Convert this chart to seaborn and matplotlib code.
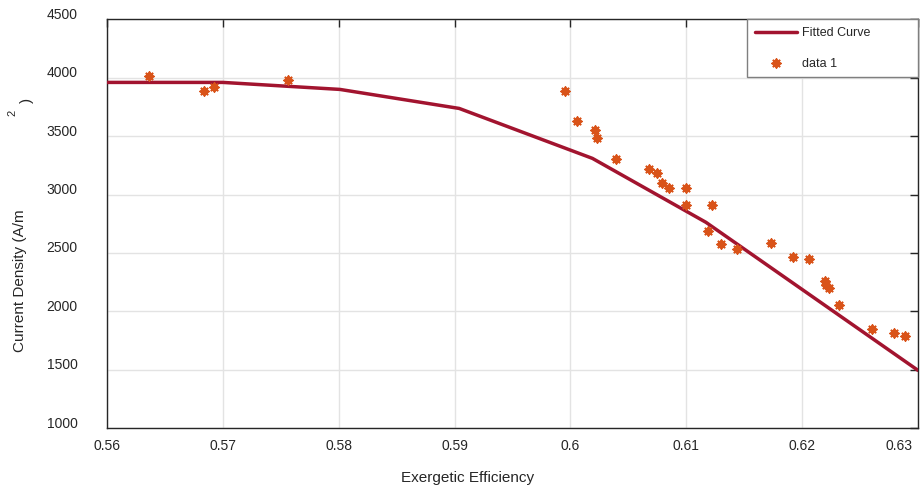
import numpy as np
import pandas as pd
import matplotlib
matplotlib.use('Agg')
import matplotlib.pyplot as plt
import matplotlib.transforms as mtransforms
import seaborn as sns

# fitted curve vertices
curve_x = [0.56, 0.57, 0.5801, 0.5904, 0.6019, 0.6117, 0.63]
curve_y = [3961, 3961, 3901, 3738, 3310, 2762, 1494]

# measured data
data_x = [0.5636, 0.5684, 0.5692, 0.5756, 0.5995, 0.6006, 0.6021, 0.6023,
          0.6039, 0.6068, 0.6075, 0.6079, 0.6085, 0.6100, 0.6100, 0.6122,
          0.6119, 0.6130, 0.6144, 0.6173, 0.6192, 0.6206, 0.6220, 0.6221,
          0.6223, 0.6232, 0.6260, 0.6279, 0.6289]
data_y = [4012, 3886, 3920, 3978, 3886, 3629, 3556, 3487,
          3304, 3215, 3181, 3102, 3053, 3060, 2913, 2907,
          2686, 2575, 2533, 2584, 2468, 2445, 2256, 2228,
          2199, 2057, 1851, 1817, 1788]

x_ticks = [0.56, 0.57, 0.58, 0.59, 0.6, 0.61, 0.62, 0.63]
x_tick_labels = ['0.56', '0.57', '0.58', '0.59', '0.6', '0.61', '0.62', '0.63']
y_ticks = [1000, 1500, 2000, 2500, 3000, 3500, 4000, 4500]

sns.set_style('white')
plt.rcParams['font.family'] = ['Liberation Sans', 'DejaVu Sans']
plt.rcParams['font.size'] = 10

W, H = 923, 490
fig = plt.figure(figsize=(W / 100, H / 100), dpi=100)
ax = fig.add_axes([107 / W, 1 - 428 / H, (918 - 107) / W, (428 - 19.5) / H])

curve = pd.DataFrame({'x': curve_x, 'y': curve_y})
pts = pd.DataFrame({'x': data_x, 'y': data_y})

sns.lineplot(data=curve, x='x', y='y', ax=ax, color='#A2142F', linewidth=2.5,
             sort=False, label='Fitted Curve', zorder=3)
sns.scatterplot(data=pts, x='x', y='y', ax=ax, marker=(8, 2, 0), s=36,
                color='#D95319', edgecolor='#D95319', linewidth=1.4,
                label='data 1', zorder=4)

ax.set_xlim(0.56, 0.63)
ax.set_ylim(1000, 4500)
ax.set_xticks(x_ticks)
ax.set_xticklabels(x_tick_labels)
ax.set_yticks(y_ticks)
ax.grid(True, color='#e3e3e3', linewidth=1)
ax.tick_params(axis='both', direction='in', length=6, width=1, colors='#262626',
               top=True, right=True, labelsize=10)
ax.tick_params(axis='x', pad=8)
ax.tick_params(axis='y', pad=21)
for sp in ax.spines.values():
    sp.set_visible(True)
    sp.set_color('#262626')
    sp.set_linewidth(1)

# y tick labels sit a little above their ticks, last x label kept inside
shift_up = mtransforms.ScaledTranslation(0, 6 / 100, fig.dpi_scale_trans)
for lab in ax.get_yticklabels():
    lab.set_transform(lab.get_transform() + shift_up)
last = ax.get_xticklabels()[-1]
last.set_horizontalalignment('right')
last.set_transform(last.get_transform() +
                   mtransforms.ScaledTranslation(-5 / 100, 0, fig.dpi_scale_trans))

ax.set_xlabel('')
ax.set_ylabel('')
fig.text(468 / W, 1 - 478 / H, 'Exergetic Efficiency', ha='center', va='center',
         fontsize=11, color='#262626')
fig.text(20 / W, 1 - 281 / H, 'Current Density (A/m', ha='center', va='center',
         rotation=90, fontsize=11, color='#262626')
fig.text(12 / W, 1 - 113 / H, '2', ha='center', va='center',
         rotation=90, fontsize=8, color='#262626')
fig.text(27 / W, 1 - 100 / H, ')', ha='center', va='center',
         rotation=90, fontsize=11, color='#262626')

x0 = (747 - 107) / (918 - 107)
leg = ax.legend(loc='upper left', bbox_to_anchor=(x0, 1.0, 1 - x0, 0), mode='expand',
                frameon=True, fancybox=False, edgecolor='#7f7f7f', framealpha=1,
                fontsize=9, handlelength=3.4, handletextpad=0.4, borderpad=0.6,
                labelspacing=1.5, borderaxespad=0)
leg.get_frame().set_linewidth(1)

fig.savefig('out.png', dpi=100)
